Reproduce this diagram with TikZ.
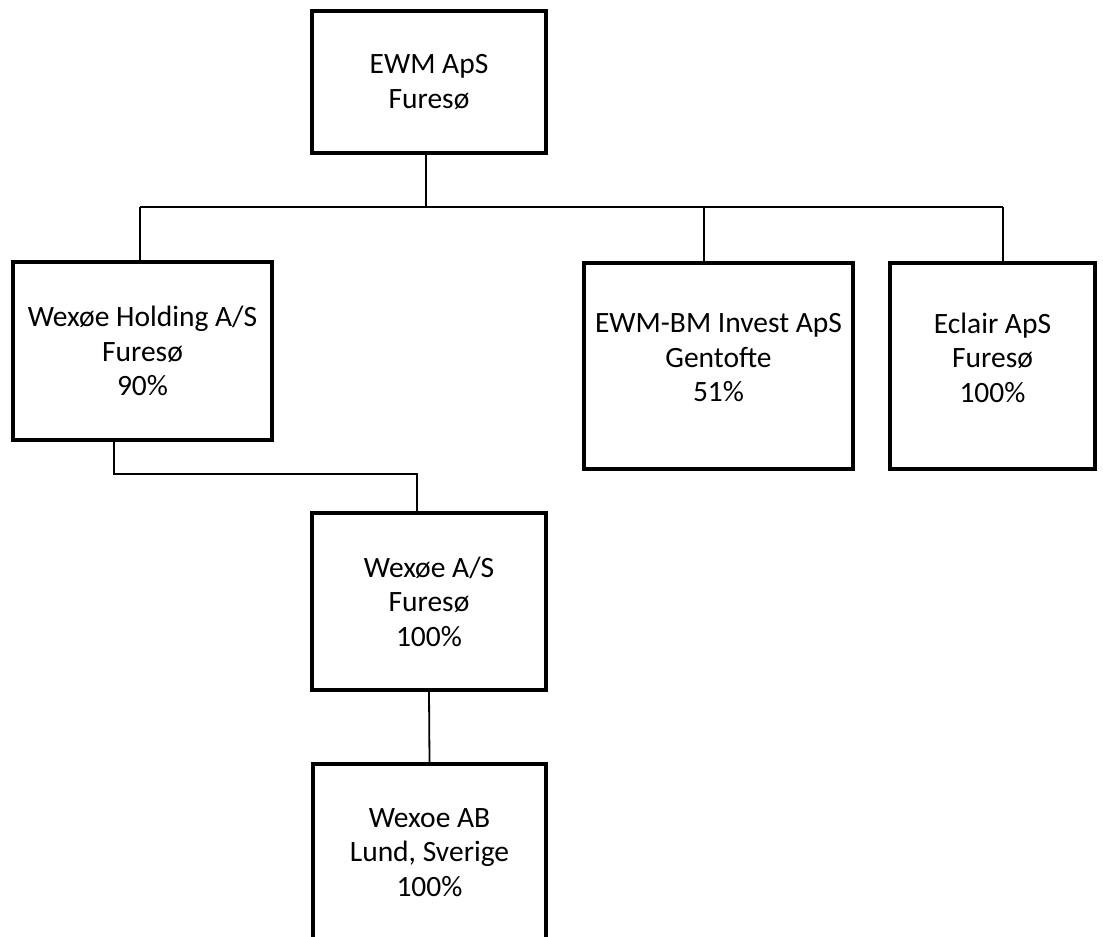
\documentclass[tikz,border=0pt]{standalone}
\usepackage{fontspec}
\setmainfont{Carlito}
\usepackage{tikz}
\usetikzlibrary{calc,positioning}
\tikzset{>=latex}
\tikzset{
  firma/.style={draw, line width=3.4pt, inner sep=0pt, align=center,
    font=\fontsize{29.5}{34.5}\selectfont},
  conn/.style={line width=1.8pt}
}

\begin{document}
\begin{tikzpicture}[x=1pt, y=-1pt]
\useasboundingbox (0,0) rectangle (1103,937);
\clip (0,0) rectangle (1103,937);
% selskaber
\node[firma, minimum width=234, minimum height=142] (ewm) at (429,82) {EWM ApS\\Furesø};
\node[firma, minimum width=259, minimum height=178] (holding) at (142.5,351) {Wexøe Holding A/S\\Furesø\\90\%};
\node[firma, minimum width=269, minimum height=206] (bminvest) at (718.5,366) {EWM-BM Invest ApS\\Gentofte\\51\%\\[-18pt]};
\node[firma, minimum width=205, minimum height=206] (eclair) at (992.5,366) {Eclair ApS\\Furesø\\100\%\\[-18pt]};
\node[firma, minimum width=234, minimum height=177] (wexas) at (429,601.5) {Wexøe A/S\\Furesø\\100\%};
\node[firma, minimum width=233, minimum height=177] (wexab) at (429.5,852.5) {Wexoe AB\\Lund, Sverige\\100\%};
% ejerlinjer
\coordinate (bus) at (426,207);
\coordinate (busL) at (140,207);
\coordinate (busR) at (1003,207);
\coordinate (bm) at (704,207);
\draw[conn] (ewm.south -| bus) -- (bus);
\draw[conn] (busL) -- (busR);
\foreach \c/\n in {busL/holding, bm/bminvest, busR/eclair}{
\draw[conn] (\c) -- (\c |- \n.north);
}
\coordinate (knaek1) at (114,474);
\coordinate (knaek2) at (417,474);
\draw[conn] (holding.south -| knaek1) -- (knaek1) -- (knaek2) -- (knaek2 |- wexas.north);
\draw[conn] (wexas.south) -- (wexab.north);
\end{tikzpicture}
\end{document}
